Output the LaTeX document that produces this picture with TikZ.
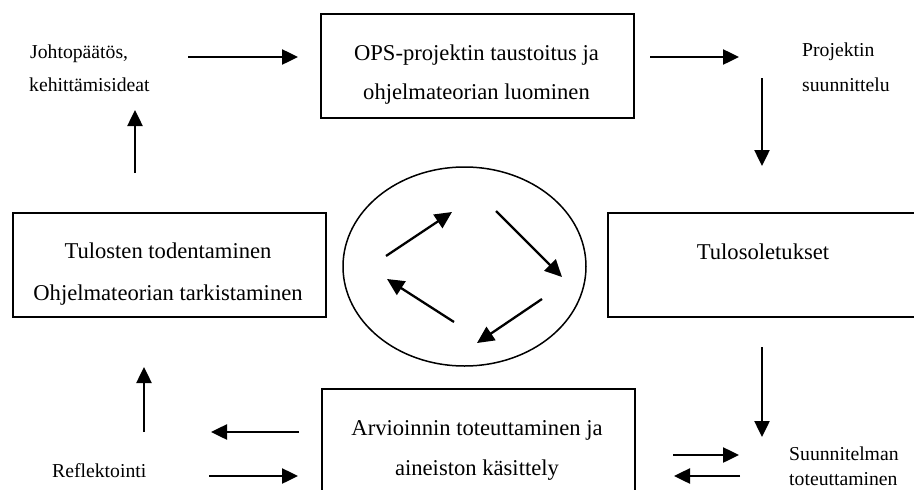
\documentclass[tikz,border=0pt]{standalone}
\usepackage{fontspec}
\setmainfont{Liberation Serif}
\usetikzlibrary{arrows.meta,shapes.geometric}

\begin{document}
\begin{tikzpicture}[x=1pt,y=-1pt,
  stagebox/.style={draw, line width=2pt, rectangle, minimum width=313pt,
    minimum height=104pt, inner sep=0pt, anchor=north west},
  boxtext/.style={anchor=base, inner sep=0pt, font=\fontsize{22.6}{27}\selectfont},
  sidelabel/.style={anchor=base west, inner sep=0pt, font=\fontsize{19.7}{24}\selectfont},
  flow/.style={line width=2.5pt, -{Triangle[length=16pt,width=15pt]}},
  turn/.style={line width=2.3pt, -{Triangle[length=17pt,width=16pt]}}]

\useasboundingbox (0,0) rectangle (914,490);
\clip (0,0) rectangle (914,490);

% stage boxes
\node[stagebox] (plan)   at (320,13)  {};
\node[stagebox] (verify) at (12,212)  {};
\node[stagebox] (assume) at (607,212) {};
\node[stagebox] (eval)   at (321,388) {};

% texts inside the boxes
\node[boxtext] (plan1)   at (476.5,60) {OPS-projektin taustoitus ja};
\node[boxtext] (plan2)   at (476.5,99) {ohjelmateorian luominen};
\node[boxtext] (verify1) at (168,258)  {Tulosten todentaminen};
\node[boxtext] (verify2) at (168,300)  {Ohjelmateorian tarkistaminen};
\node[boxtext] (assume1) at (763,259)  {Tulosoletukset};
\node[boxtext] (eval1)   at (477,435)  {Arvioinnin toteuttaminen ja};
\node[boxtext] (eval2)   at (477,475)  {aineiston käsittely};

% labels between the stages
\node[sidelabel] (concl1) at (30,58)   {Johtopäätös,};
\node[sidelabel] (concl2) at (29,91)   {kehittämisideat};
\node[sidelabel] (proj1)  at (802,56)  {Projektin};
\node[sidelabel] (proj2)  at (802,91)  {suunnittelu};
\node[sidelabel] (impl1)  at (789,460) {Suunnitelman};
\node[sidelabel] (impl2)  at (789,485) {toteuttaminen};
\node[sidelabel] (refl)   at (52,477)  {Reflektointi};

% central cycle
\node[draw, ellipse, line width=1.5pt, minimum width=243pt, minimum height=199pt,
  inner sep=0pt] (cycle) at (464.5,266.5) {};

\coordinate (c1s) at (386,256); \coordinate (c1e) at (452,212);
\coordinate (c2s) at (496,211); \coordinate (c2e) at (562,277);
\coordinate (c3s) at (542,299); \coordinate (c3e) at (477,343);
\coordinate (c4s) at (454,322); \coordinate (c4e) at (387,279);
\draw[turn] (c1s) -- (c1e);
\draw[turn] (c2s) -- (c2e);
\draw[turn] (c3s) -- (c3e);
\draw[turn] (c4s) -- (c4e);

% arrows around the loop
\coordinate (a1s) at (188,57);  \coordinate (a1e) at (298,57);
\coordinate (a2s) at (650,57);  \coordinate (a2e) at (739,57);
\coordinate (a3s) at (762,78);  \coordinate (a3e) at (762,166);
\coordinate (a4s) at (762,347); \coordinate (a4e) at (762,437);
\coordinate (a5s) at (673,455); \coordinate (a5e) at (739,455);
\coordinate (a6s) at (740,476); \coordinate (a6e) at (674,476);
\coordinate (a7s) at (299,432); \coordinate (a7e) at (211,432);
\coordinate (a8s) at (209,476); \coordinate (a8e) at (298,476);
\coordinate (a9s) at (144,432); \coordinate (a9e) at (144,367);
\coordinate (a10s) at (135,173); \coordinate (a10e) at (135,110);
\foreach \i in {1,...,10} {\draw[flow] (a\i s) -- (a\i e);}

\end{tikzpicture}
\end{document}
